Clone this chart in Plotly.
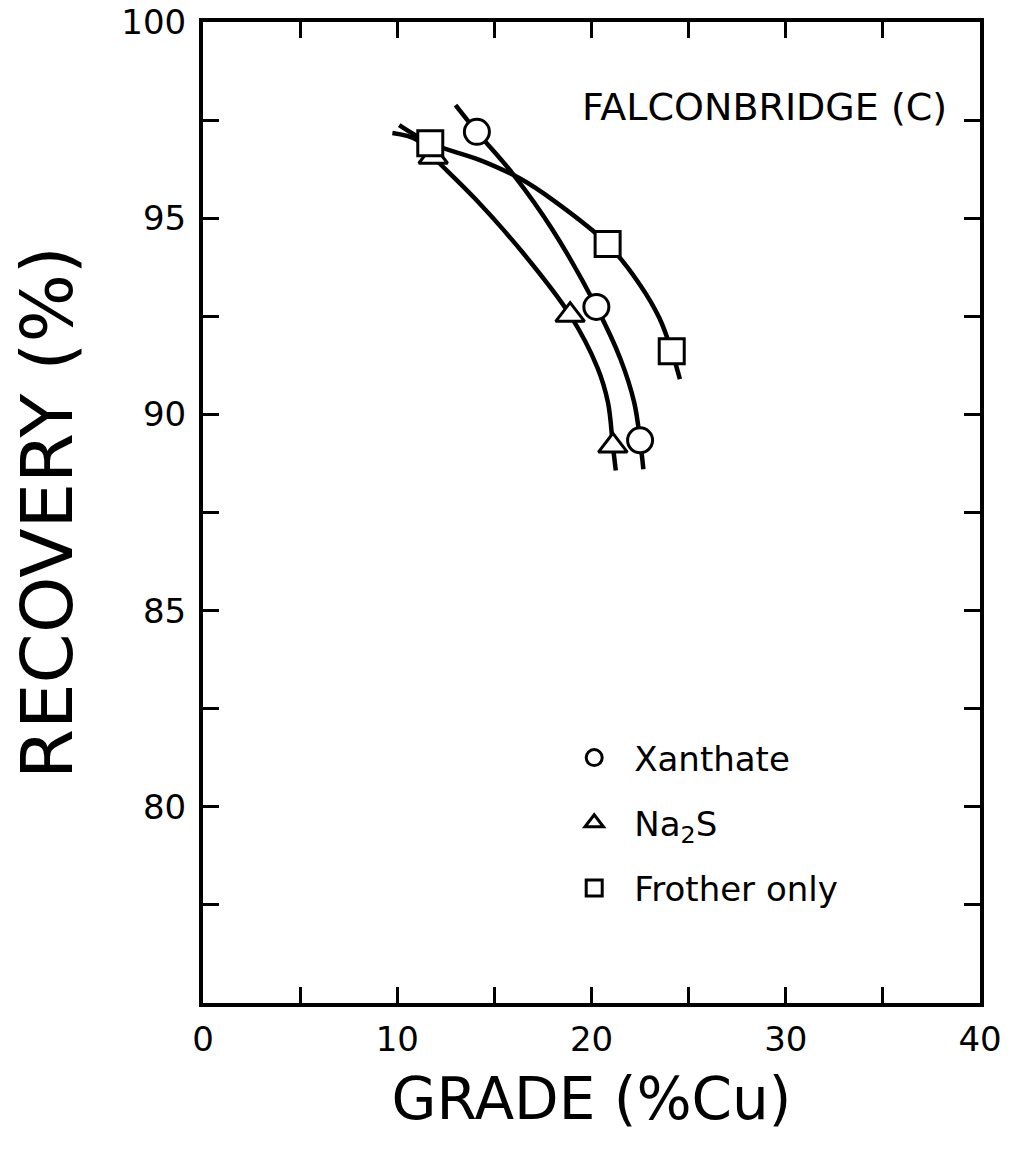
import plotly.graph_objects as go

# Measured data points (Grade %Cu, Recovery %)
xan_x = [14.1, 20.25, 22.5]
xan_y = [97.2, 92.74, 89.34]
na2s_x = [11.85, 18.9, 21.1]
na2s_y = [96.56, 92.53, 89.2]
froth_x = [11.7, 20.83, 24.13]
froth_y = [96.91, 94.34, 91.61]

# Hand-drawn fitted curves
xan_curve_x = [13.0, 14.1, 16.0, 18.0, 20.25, 21.5, 22.2, 22.5, 22.67]
xan_curve_y = [97.88, 97.2, 96.1, 94.7, 92.74, 91.4, 90.3, 89.34, 88.6]
na2s_curve_x = [9.75, 11.0, 11.85, 14.0, 16.5, 18.9, 20.3, 20.85, 21.1, 21.25]
na2s_curve_y = [97.17, 97.0, 96.56, 95.5, 94.1, 92.53, 91.2, 90.3, 89.2, 88.57]
froth_curve_x = [10.1, 11.7, 14.26, 16.32, 18.02, 20.83, 22.5, 23.5, 24.13, 24.55]
froth_curve_y = [97.37, 96.91, 96.48, 96.01, 95.46, 94.34, 93.3, 92.45, 91.61, 90.9]

x_ticks = [0, 10, 20, 30, 40]
y_ticks = [80, 85, 90, 95, 100]

FONT = "DejaVu Sans"

fig = go.Figure()

for cx, cy in [(xan_curve_x, xan_curve_y), (na2s_curve_x, na2s_curve_y), (froth_curve_x, froth_curve_y)]:
    fig.add_trace(go.Scatter(x=cx, y=cy, mode="lines",
                             line=dict(color="black", width=4.5, shape="spline", smoothing=1.0),
                             showlegend=False, hoverinfo="skip"))

series = [
    ("Xanthate", xan_x, xan_y, "circle"),
    ("Na<sub>2</sub>S", na2s_x, na2s_y, "triangle-up"),
    ("Frother only", froth_x, froth_y, "square"),
]
for i, (name, sx, sy, sym) in enumerate(series):
    fig.add_trace(go.Scatter(x=sx, y=sy, mode="markers", name=name, legendgroup=str(i),
                             marker=dict(symbol=sym, size=25, color="white", line=dict(color="black", width=3))))

fig.add_annotation(x=0.723, y=0.913, xref="paper", yref="paper", text="FALCONBRIDGE (C)", showarrow=False,
                   xanchor="center", yanchor="middle", font=dict(family=FONT, size=38, color="black"))

axis_common = dict(showline=True, linecolor="black", linewidth=4, mirror="ticks", ticks="inside", ticklen=16,
                   tickwidth=3, tickcolor="black", showgrid=False, zeroline=False, automargin=False,
                   ticklabeloverflow="allow",
                   tickfont=dict(family=FONT, size=34, color="black"))

fig.update_xaxes(range=[0, 40], tickmode="array", tickvals=x_ticks, ticktext=[str(v) for v in x_ticks],
                 minor=dict(dtick=5, ticks="inside", ticklen=16, tickwidth=3, tickcolor="black"),
                 ticklabelstandoff=3,
                 title=dict(text="GRADE (%Cu)", font=dict(family=FONT, size=58, color="black"), standoff=22),
                 **axis_common)
fig.update_yaxes(range=[75, 100], tickmode="array", tickvals=y_ticks, ticktext=[str(v) for v in y_ticks],
                 minor=dict(dtick=2.5, tick0=75, ticks="inside", ticklen=16, tickwidth=3, tickcolor="black"),
                 ticklabelstandoff=6,
                 title=dict(text="RECOVERY (%)", font=dict(family=FONT, size=72, color="black"), standoff=26),
                 **axis_common)

fig.update_layout(
    width=1011, height=1161,
    margin=dict(l=203, r=31, t=22, b=158, autoexpand=False),
    paper_bgcolor="white", plot_bgcolor="white",
    legend=dict(x=0.452, y=0.2793, xanchor="left", yanchor="top", bgcolor="rgba(0,0,0,0)",
                font=dict(family=FONT, size=34, color="black"), traceorder="grouped", tracegroupgap=18,
                itemsizing="trace", itemwidth=70),
)

fig.write_html("out.html", config={"displayModeBar": False},
               post_script="document.body.style.margin='0';")
